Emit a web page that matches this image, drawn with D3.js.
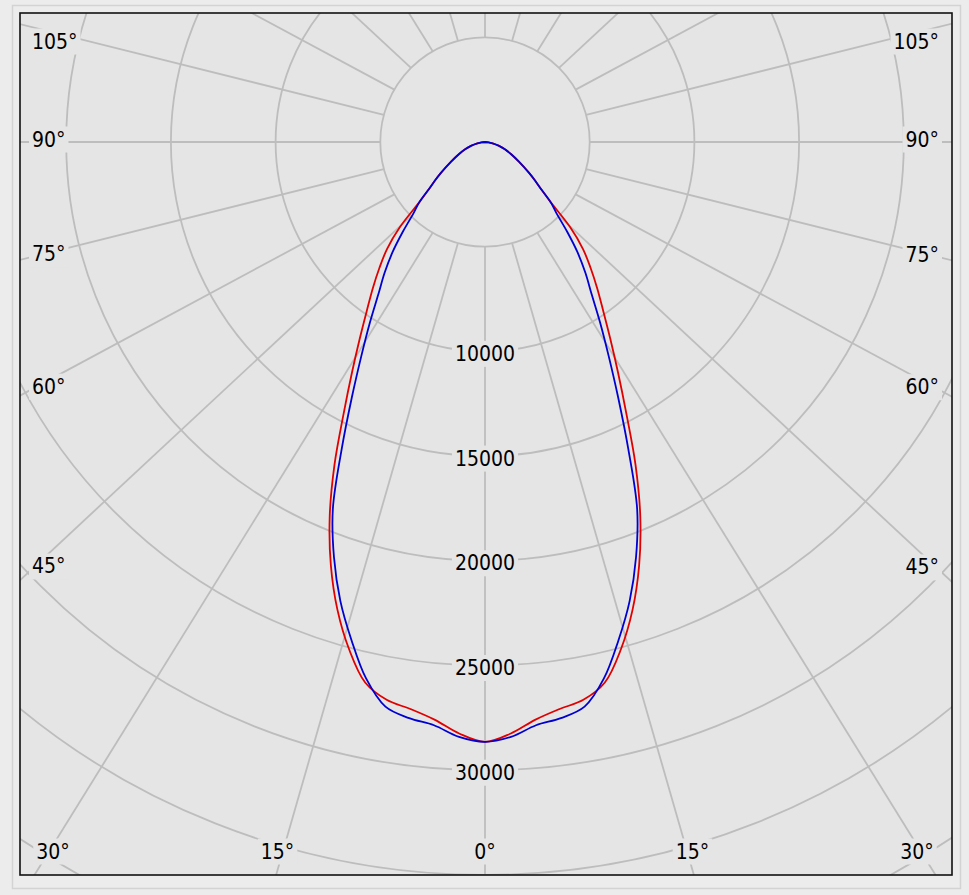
<!DOCTYPE html>
<html><head><meta charset="utf-8">
<script src="https://cdn.jsdelivr.net/npm/d3@7"></script>
<style>html,body{margin:0;padding:0;background:#ececec;} svg{display:block;}</style>
</head><body>
<svg id="chart" width="969" height="895"></svg>
<script>
// ---- data ----
const gammaDeg = [0,2.5,5,7.5,10,12.5,15,17.5,20,22.5,25,27.5,30,32.5,35,37.5,40,42.5,45,47.5,50,52.5,55,60,65,70,75,80,85,90];
const redCd  = [28645,28275,27690,27310,27050,26440,25080,23430,21520,19380,17010,14620,12700,11130,9840,8800,7840,6920,5745,4250,3490,3000,2570,1870,1380,1010,670,370,170,0];
const blueCd = [28645,28435,27960,27750,27380,26240,24630,22975,21090,18990,16200,13785,11820,10235,8880,7875,6870,5800,4850,4250,3490,3000,2570,1870,1380,1010,670,370,170,0];
const ringValues = [5000,10000,15000,20000,25000,30000,35000,40000,45000];
const ringLabels = [10000,15000,20000,25000,30000];
const spokeAngles = [0,15,30,45,60,75,90,105,120,135,150,165,180];
const angleLabels = [0,15,30,45,60,75,90,105];

// ---- layout ----
const svg = d3.select('#chart');
const cx = 485, cy = 142;
const plot = {x0:20, y0:13, x1:952, y1:875};
const r = d3.scaleLinear().domain([0,5000]).range([0,104.7]);
const innerValue = 5000, spokeReach = 47750, stretch = 1.066;
const bg = '#e5e5e5', gridCol = '#bdbdbd';
const font = "'DejaVu Sans Condensed','Liberation Sans',sans-serif";
const rad = d => d*Math.PI/180;

// outer window
svg.append('rect').attr('x',12.5).attr('y',5.5).attr('width',948).attr('height',883)
  .attr('fill','#ececec').attr('stroke','#d3d3d3').attr('stroke-width',1.5);

const defs = svg.append('defs');
defs.append('clipPath').attr('id','pc').append('rect')
  .attr('x',plot.x0).attr('y',plot.y0).attr('width',plot.x1-plot.x0).attr('height',plot.y1-plot.y0);

const g = svg.append('g').attr('clip-path','url(#pc)');
g.append('rect').attr('x',plot.x0).attr('y',plot.y0).attr('width',plot.x1-plot.x0).attr('height',plot.y1-plot.y0).attr('fill',bg);

// rings
g.selectAll('circle.ring').data(ringValues).join('circle')
  .attr('cx',cx).attr('cy',cy).attr('r',d=>r(d))
  .attr('fill','none').attr('stroke',gridCol).attr('stroke-width',1.8);

// spokes
function spoke(a, s){
  const sn = Math.sin(rad(a)), cs = Math.cos(rad(a));
  const p0 = [cx + s*r(innerValue)*sn, cy + r(innerValue)*cs];
  const p1 = [cx + s*stretch*r(spokeReach)*sn, cy + r(spokeReach)*cs];
  return [p0,p1];
}
const spokes = [];
spokeAngles.forEach(a => {
  spokes.push({a, s:-1, p:spoke(a,-1)});
  if (a>0 && a<180) spokes.push({a, s:1, p:spoke(a,1)});
});
g.selectAll('line.spoke').data(spokes).join('line')
  .attr('x1',d=>d.p[0][0]).attr('y1',d=>d.p[0][1])
  .attr('x2',d=>d.p[1][0]).attr('y2',d=>d.p[1][1])
  .attr('stroke',gridCol).attr('stroke-width',1.8);

// label helper with background mask
function label(parent, txt, x, yc, anchor){
  const gg = parent.append('g');
  const rect = gg.append('rect').attr('fill',bg);
  const t = gg.append('text').attr('x',x).attr('y',yc+7.5).attr('text-anchor',anchor)
    .attr('font-family',font).attr('font-size',21).attr('fill','#000').text(txt);
  const b = t.node().getBBox();
  rect.attr('x',b.x-3).attr('y',b.y-1).attr('width',b.width+6).attr('height',b.height+2);
}

// ring labels
ringLabels.forEach(v => label(g, String(v), cx, cy + r(v) + 2, 'middle'));

// angle labels
function atX(p, x){ const [a,b]=p; return a[1] + (x-a[0])*(b[1]-a[1])/(b[0]-a[0]); }
function atY(p, y){ const [a,b]=p; return a[0] + (y-a[1])*(b[0]-a[0])/(b[1]-a[1]); }
angleLabels.forEach(a => {
  const sides = a===0 ? [1] : [-1,1];
  sides.forEach(s => {
    const p = spoke(a, s);
    if (a >= 45){
      const x = s<0 ? 32 : 939;
      const y = Math.max(41, atX(p,x) - 3);
      label(g, a+'°', x, y, s<0 ? 'start':'end');
    } else {
      let x = a===0 ? cx : atY(p, 870);
      x = Math.max(53, Math.min(917, x));
      label(g, a+'°', x, 851, 'middle');
    }
  });
});

// curves
function curvePts(vals){
  const left = gammaDeg.map((d,i)=>({a:Math.PI + rad(d), v:vals[i]})).reverse();
  const right = gammaDeg.slice(1).map((d,i)=>({a:Math.PI - rad(d), v:vals[i+1]}));
  return left.concat(right);
}
const line = d3.lineRadial().angle(d=>d.a).radius(d=>r(d.v)).curve(d3.curveCatmullRom);
const curves = g.append('g').attr('transform',`translate(${cx},${cy})`);
curves.append('path').attr('d',line(curvePts(redCd))).attr('fill','none').attr('stroke','#e00000').attr('stroke-width',1.8);
curves.append('path').attr('d',line(curvePts(blueCd))).attr('fill','none').attr('stroke','#0000d0').attr('stroke-width',1.8);

// frame
svg.append('rect').attr('x',plot.x0).attr('y',plot.y0).attr('width',plot.x1-plot.x0).attr('height',plot.y1-plot.y0)
  .attr('fill','none').attr('stroke','#111').attr('stroke-width',1.6);
</script>
</body></html>
